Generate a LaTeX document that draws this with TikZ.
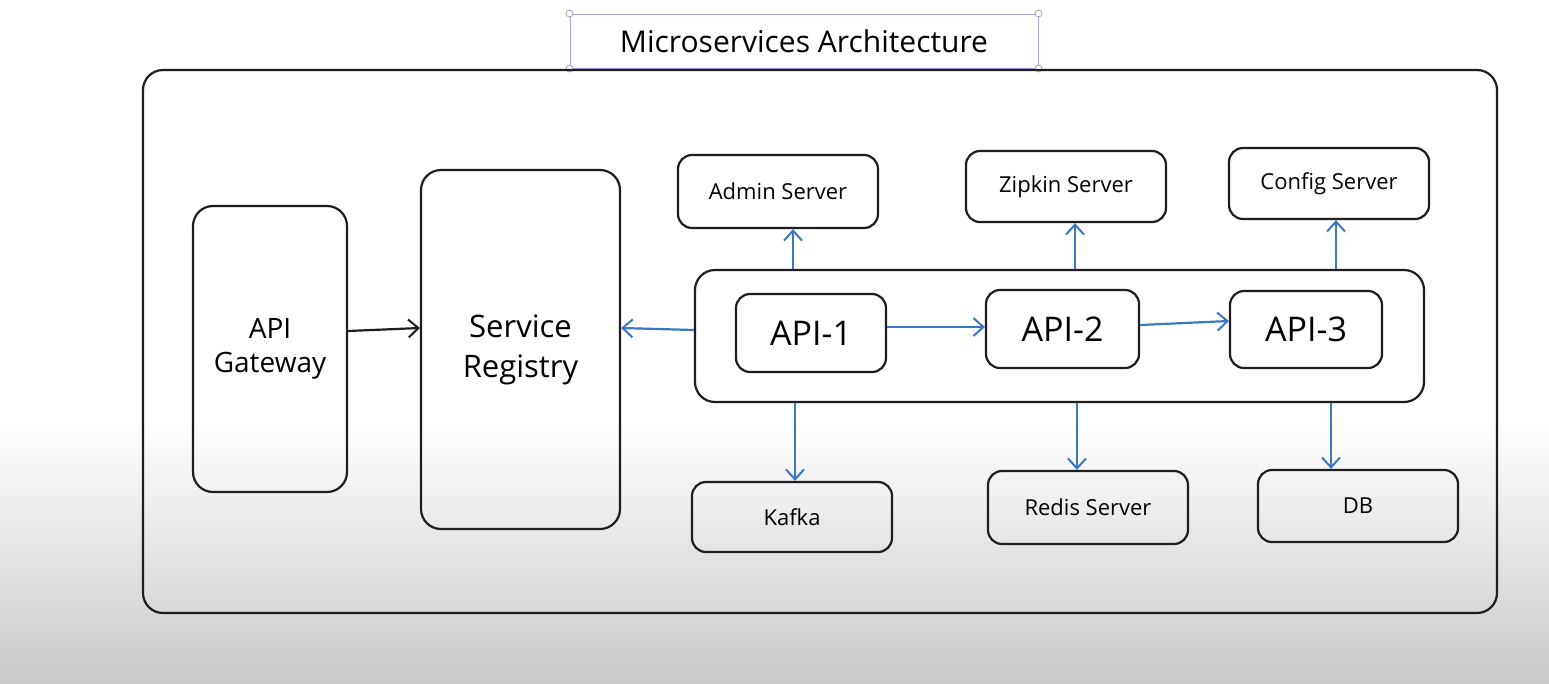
\documentclass[tikz,border=0pt]{standalone}
\usepackage{fontspec}
\setmainfont{Open Sans}
\usetikzlibrary{arrows.meta}
\definecolor{ink}{RGB}{30,30,30}
\definecolor{bluearrow}{RGB}{58,120,196}
\definecolor{selbox}{RGB}{170,165,235}
\tikzset{
  box/.style={draw=ink, line width=2.2pt, rounded corners=14pt, inner sep=0pt, align=center},
  bigbox/.style={box, rounded corners=20pt},
  blk/.style={draw=ink, line width=2.2pt, -{Straight Barb[length=10pt,width=18pt,line width=2pt]}},
  blu/.style={draw=bluearrow, line width=2.2pt, -{Straight Barb[length=10pt,width=18pt,line width=2pt]}},
  handle/.style={circle, draw=gray!70, fill=white, line width=0.8pt, minimum size=7pt, inner sep=0pt},
}
\begin{document}
\begin{tikzpicture}[x=1pt,y=-1pt]
\useasboundingbox (0,0) rectangle (1549,683);
\fill[white] (0,0) rectangle (1549,683);
\shade[top color=white, bottom color=black!21] (0,420) rectangle (1549,683);

% title
\node[draw=selbox, line width=1pt, minimum width=468pt, minimum height=54pt, inner sep=0pt, font=\fontsize{30}{34}\selectfont] (title) at (804,41) {Microservices Architecture};
\foreach \c in {north west, north east, south west, south east}{\node[handle] at (title.\c) {};}

% outer frame
\node[bigbox, minimum width=1354pt, minimum height=543pt] (frame) at (820,341.5) {};

% left boxes
\node[bigbox, minimum width=154pt, minimum height=286pt, font=\fontsize{28}{34}\selectfont] (gw) at (270,349) {API\\Gateway};
\node[bigbox, minimum width=199pt, minimum height=359pt, font=\fontsize{31}{40}\selectfont] (reg) at (520.5,349.5) {Service\\Registry};

% top servers
\node[box, minimum width=200pt, minimum height=73pt, font=\fontsize{22}{26}\selectfont] (admin) at (778,191.5) {Admin Server};
\node[box, minimum width=200pt, minimum height=71pt, font=\fontsize{22}{26}\selectfont] (zipkin) at (1066,186.5) {Zipkin Server};
\node[box, minimum width=200pt, minimum height=71pt, font=\fontsize{22}{26}\selectfont] (config) at (1329,183.5) {Config Server};

% API group
\node[bigbox, minimum width=729pt, minimum height=132pt] (grp) at (1059.5,336) {};
\node[box, minimum width=150pt, minimum height=78pt, font=\fontsize{34}{40}\selectfont] (api1) at (811,333) {API-1};
\node[box, minimum width=153pt, minimum height=78pt, font=\fontsize{34}{40}\selectfont] (api2) at (1062.5,329) {API-2};
\node[box, minimum width=152pt, minimum height=77pt, font=\fontsize{34}{40}\selectfont] (api3) at (1306,329.5) {API-3};

% bottom boxes
\node[box, minimum width=200pt, minimum height=70pt, font=\fontsize{22}{26}\selectfont] (kafka) at (792,517) {Kafka};
\node[box, minimum width=200pt, minimum height=73pt, font=\fontsize{22}{26}\selectfont] (redis) at (1088,507.5) {Redis Server};
\node[box, minimum width=200pt, minimum height=72pt, font=\fontsize{22}{26}\selectfont] (db) at (1358,506) {DB};

% connectors
\draw[blk] (gw.east |- 0,331) -- (reg.west |- 0,328);
\draw[blu] (grp.west |- 0,330) -- (reg.east |- 0,328);
\draw[blu] (api1.east |- 0,327) -- (api2.west |- 0,327);
\draw[blu] (api2.east |- 0,325) -- (api3.west |- 0,321);
\draw[blu] (grp.north -| 793,0) -- (admin.south -| 793,0);
\draw[blu] (grp.north -| 1075,0) -- (zipkin.south -| 1075,0);
\draw[blu] (grp.north -| 1336,0) -- (config.south -| 1336,0);
\draw[blu] (grp.south -| 795,0) -- (kafka.north -| 795,0);
\draw[blu] (grp.south -| 1077,0) -- (redis.north -| 1077,0);
\draw[blu] (grp.south -| 1331,0) -- (db.north -| 1331,0);
\end{tikzpicture}
\end{document}
